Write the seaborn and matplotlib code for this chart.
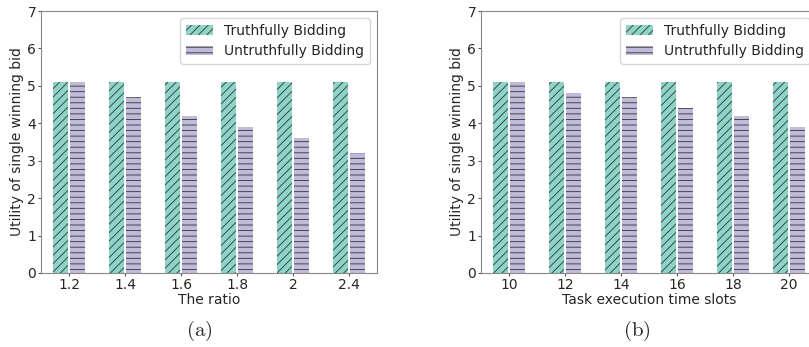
import matplotlib
matplotlib.use("Agg")
import matplotlib.pyplot as plt
import seaborn as sns
import pandas as pd
from matplotlib.patches import Patch

sns.set_style("ticks")
plt.rcParams['font.family'] = ['DejaVu Sans']
plt.rcParams['mathtext.fontset'] = 'cm'
plt.rcParams['hatch.linewidth'] = 0.6

series_names = ["Truthfully Bidding", "Untruthfully Bidding"]
colors = ["#8dd3c7", "#bebada"]
hatches = ["////", "---"]

ratio_labels = ["1.2", "1.4", "1.6", "1.8", "2", "2.4"]
ratio_truthful = [5.1, 5.1, 5.1, 5.1, 5.1, 5.1]
ratio_untruthful = [5.1, 4.7, 4.2, 3.9, 3.6, 3.2]

slot_labels = ["10", "12", "14", "16", "18", "20"]
slot_truthful = [5.1, 5.1, 5.1, 5.1, 5.1, 5.1]
slot_untruthful = [5.1, 4.8, 4.7, 4.4, 4.2, 3.9]

W, H = 809, 347
fig = plt.figure(figsize=(W / 100, H / 100), dpi=100)
ax1 = fig.add_axes([41 / W, (H - 273) / H, 336 / W, 262 / H])
ax2 = fig.add_axes([481 / W, (H - 273) / H, 336 / W, 262 / H])


def draw(ax, labels, truthful, untruthful, xlabel):
    df = pd.DataFrame({
        "x": labels * 2,
        "val": truthful + untruthful,
        "series": [series_names[0]] * len(labels) + [series_names[1]] * len(labels),
    })
    sns.barplot(data=df, x="x", y="val", hue="series", palette=colors,
                width=0.6, gap=0.1, ax=ax, legend=False,
                edgecolor="#333333", linewidth=0, saturation=1)
    for cont, h in zip(ax.containers, hatches):
        for p in cont:
            p.set_hatch(h)
            p.set_edgecolor("#333333")
            p.set_linewidth(0)
    ax.set_xlim(-0.5, len(labels) - 0.5)
    ax.set_ylim(0, 7)
    ax.set_yticks(range(0, 8))
    ax.set_xlabel(xlabel, fontsize=10, labelpad=1)
    ax.set_ylabel("Utility of single winning bid", fontsize=10, labelpad=2)
    ax.tick_params(labelsize=10, length=2.5, pad=1, color="#555555")
    for s in ax.spines.values():
        s.set_visible(True)
        s.set_color("#888888")
        s.set_linewidth(0.8)
    handles = [Patch(facecolor=c, hatch=h, edgecolor="#333333", linewidth=0, label=n)
               for c, h, n in zip(colors, hatches, series_names)]
    ax.legend(handles=handles, loc="upper right", fontsize=10, frameon=True,
              borderaxespad=0.5, handlelength=2.0)


draw(ax1, ratio_labels, ratio_truthful, ratio_untruthful, "The ratio")
draw(ax2, slot_labels, slot_truthful, slot_untruthful, "Task execution time slots")

fig.text(199 / W, 1 - 331 / H, r"$\mathrm{(a)}$", fontsize=15, ha="center", va="center")
fig.text(637 / W, 1 - 331 / H, r"$\mathrm{(b)}$", fontsize=15, ha="center", va="center")

fig.savefig("out.png", dpi=100)
